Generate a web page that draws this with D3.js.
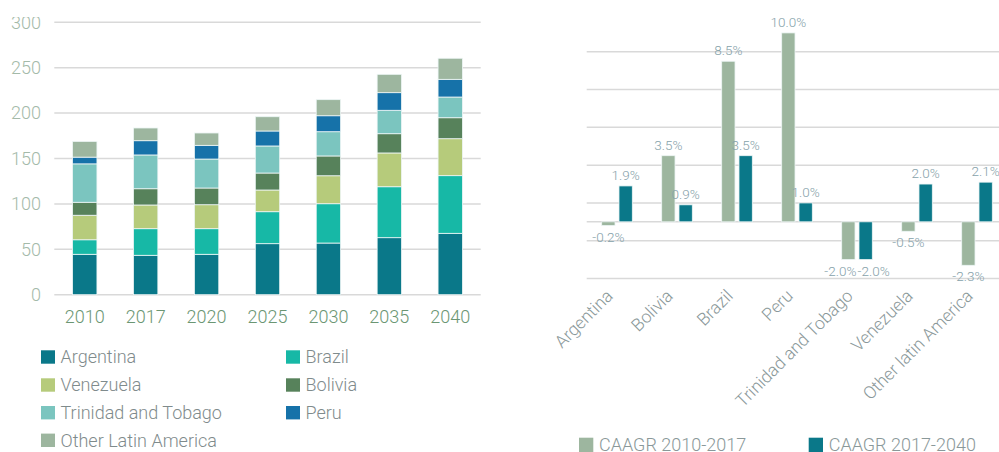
<!DOCTYPE html>
<html>
<head>
<meta charset="utf-8">
<script src="https://cdn.jsdelivr.net/npm/d3@7"></script>
<style>
  body { margin: 0; background: #fff; }
  svg { display: block; font-family: Roboto, "Open Sans", sans-serif; font-weight: 300; }
</style>
</head>
<body>
<div id="chart"></div>
<script>
// stacked demand by country
const years = ['2010', '2017', '2020', '2025', '2030', '2035', '2040'];
const countries = ['Argentina', 'Brazil', 'Venezuela', 'Bolivia', 'Trinidad and Tobago', 'Peru', 'Other Latin America'];
const argentina = [44.5, 43.4, 44.5, 56.2, 56.9, 62.8, 67.6];
const brazil = [16, 29.3, 28.2, 35.2, 43.3, 56.1, 63.5];
const venezuela = [27, 26.1, 26.4, 23.9, 30.8, 37.2, 40.7];
const bolivia = [14.3, 17.9, 18.4, 18.7, 21.8, 21.2, 23.1];
const trinidad = [42.3, 37.2, 31.9, 29.8, 26.7, 25.8, 22.8];
const peru = [7.4, 15.7, 15.1, 16.5, 17.6, 19.4, 19.5];
const otherLatam = [17.3, 14, 13.6, 15.7, 17.7, 20.2, 23.2];
const leftTicks = [0, 50, 100, 150, 200, 250, 300];
const countryColors = ['#0a7889', '#17b8a6', '#b6cb7b', '#57825b', '#7bc5bf', '#1672a9', '#9db69f'];

// growth rates
const caagrCats = ['Argentina', 'Bolivia', 'Brazil', 'Peru', 'Trinidad and Tobago', 'Venezuela', 'Other latin America'];
const caagrSeries = ['CAAGR 2010-2017', 'CAAGR 2017-2040'];
const caagr1017 = [-0.2, 3.5, 8.5, 10.0, -2.0, -0.5, -2.3];
const caagr1740 = [1.9, 0.9, 3.5, 1.0, -2.0, 2.0, 2.1];
const rightTicks = [-3, -1, 1, 3, 5, 7, 9];
const caagrColors = ['#9db69f', '#0a7889'];

const svg = d3.select('#chart').append('svg')
    .attr('width', 999)
    .attr('height', 452);

// the source image is cropped just above the top tick label
svg.append('defs').append('clipPath')
    .attr('id', 'crop')
    .append('rect')
    .attr('x', 0)
    .attr('y', 17)
    .attr('width', 999)
    .attr('height', 440);

// ---------- left chart ----------
const seriesValues = [argentina, brazil, venezuela, bolivia, trinidad, peru, otherLatam];
const rows = years.map((y, i) => {
    const r = { year: y };
    countries.forEach((c, j) => { r[c] = seriesValues[j][i]; });
    return r;
});
const stacked = d3.stack().keys(countries)(rows);

const x = d3.scaleBand()
    .domain(years)
    .range([54.3, 480.7])
    .paddingInner(0.6)
    .paddingOuter(0.3);

const y = d3.scaleLinear()
    .domain([0, 300])
    .range([294.7, 22.3]);

const left = svg.append('g')
    .attr('clip-path', 'url(#crop)');

left.append('g')
    .selectAll('line')
    .data(leftTicks)
    .enter().append('line')
    .attr('x1', 54.3)
    .attr('x2', 480.7)
    .attr('y1', d => y(d))
    .attr('y2', d => y(d))
    .attr('stroke', '#d9d9d9')
    .attr('stroke-width', 1.5);

left.append('g')
    .attr('transform', 'translate(41, 0)')
    .call(d3.axisLeft(y).tickValues(leftTicks).tickSize(0).tickPadding(0))
    .call(g => g.select('.domain').remove())
    .selectAll('text')
    .attr('font-size', 18)
    .attr('font-family', 'Roboto, sans-serif')
    .attr('font-weight', 300)
    .attr('fill', '#a4baa9');

left.append('g')
    .attr('transform', 'translate(0, 310.5)')
    .call(d3.axisBottom(x).tickSize(0).tickPadding(0))
    .call(g => g.select('.domain').remove())
    .selectAll('text')
    .attr('font-size', 18)
    .attr('font-family', 'Roboto, sans-serif')
    .attr('font-weight', 300)
    .attr('fill', '#6b9673');

left.append('g')
    .selectAll('g')
    .data(stacked)
    .enter().append('g')
    .attr('fill', (d, i) => countryColors[i])
    .selectAll('rect')
    .data(d => d)
    .enter().append('rect')
    .attr('x', d => x(d.data.year))
    .attr('y', d => y(d[1]))
    .attr('width', x.bandwidth())
    .attr('height', d => y(d[0]) - y(d[1]))
    .attr('stroke', '#eef6f6')
    .attr('stroke-width', 0.8);

// legend
const legendPos = [[41, 357], [286, 357], [41, 385], [286, 385], [41, 412.7], [286, 412.7], [41, 440.3]];
const legendOrder = ['Argentina', 'Brazil', 'Venezuela', 'Bolivia', 'Trinidad and Tobago', 'Peru', 'Other Latin America'];
const leftLegend = left.append('g')
    .selectAll('g')
    .data(legendOrder)
    .enter().append('g')
    .attr('transform', (d, i) => `translate(${legendPos[i][0]}, ${legendPos[i][1]})`);

leftLegend.append('rect')
    .attr('y', -6.7)
    .attr('width', 14)
    .attr('height', 13.4)
    .attr('fill', d => countryColors[countries.indexOf(d)]);

leftLegend.append('text')
    .attr('x', 19.5)
    .attr('dy', '0.35em')
    .attr('font-size', 18)
    .attr('fill', '#7f8b8c')
    .text(d => d);

// ---------- right chart ----------
const x0 = d3.scaleBand()
    .domain(caagrCats)
    .range([586.7, 1007.3])
    .paddingInner(0.49)
    .paddingOuter(0.25);

const x1 = d3.scaleBand()
    .domain(caagrSeries)
    .range([0, x0.bandwidth()])
    .paddingInner(0.23);

const y2 = d3.scaleLinear()
    .domain([-3, 9])
    .range([278.5, 51.8]);

const right = svg.append('g');

right.append('g')
    .selectAll('line')
    .data(rightTicks.concat([0]))
    .enter().append('line')
    .attr('x1', 586.7)
    .attr('x2', 999)
    .attr('y1', d => y2(d))
    .attr('y2', d => y2(d))
    .attr('stroke', '#d9d9d9')
    .attr('stroke-width', 1.5);

const barData = caagrCats.map((c, i) => [
    { cat: c, s: caagrSeries[0], v: caagr1017[i], k: 0 },
    { cat: c, s: caagrSeries[1], v: caagr1740[i], k: 1 }
]);

const groups = right.append('g')
    .selectAll('g')
    .data(barData)
    .enter().append('g')
    .attr('transform', d => `translate(${x0(d[0].cat)}, 0)`);

groups.selectAll('rect')
    .data(d => d)
    .enter().append('rect')
    .attr('x', d => x1(d.s))
    .attr('y', d => y2(Math.max(0, d.v)))
    .attr('width', x1.bandwidth())
    .attr('height', d => Math.abs(y2(d.v) - y2(0)))
    .attr('fill', d => caagrColors[d.k])
    .attr('stroke', '#eef6f6')
    .attr('stroke-width', 0.8);

// labels of two negative bars side by side get pushed apart
const labelShift = d => {
    const pair = barData.find(g => g[0].cat === d.cat);
    const clash = pair[0].v < 0 && pair[1].v < 0 && Math.abs(pair[0].v - pair[1].v) < 0.5;
    return clash ? (d.k === 0 ? -8 : 8) : 0;
};

groups.selectAll('text')
    .data(d => d)
    .enter().append('text')
    .attr('x', d => x1(d.s) + x1.bandwidth() / 2 + labelShift(d))
    .attr('y', d => d.v >= 0 ? y2(d.v) - 6 : y2(d.v) + 16)
    .attr('text-anchor', 'middle')
    .attr('font-size', 13.5)
    .attr('fill', '#86a2aa')
    .text(d => d.v.toFixed(1) + '%');

right.append('g')
    .selectAll('text')
    .data(caagrCats)
    .enter().append('text')
    .attr('transform', d => `translate(${x0(d) + x0.bandwidth() / 2 - 3}, 297) rotate(-45)`)
    .attr('text-anchor', 'end')
    .attr('font-size', 17.5)
    .attr('fill', '#8a9899')
    .text(d => d);

const rightLegend = right.append('g')
    .selectAll('g')
    .data(caagrSeries)
    .enter().append('g')
    .attr('transform', (d, i) => `translate(${[579, 808.7][i]}, 445)`);

rightLegend.append('rect')
    .attr('y', -7.3)
    .attr('width', 14.3)
    .attr('height', 14.3)
    .attr('fill', (d, i) => caagrColors[i]);

rightLegend.append('text')
    .attr('x', 20)
    .attr('dy', '0.35em')
    .attr('font-size', 18)
    .attr('fill', '#8a9899')
    .text(d => d);
</script>
</body>
</html>
